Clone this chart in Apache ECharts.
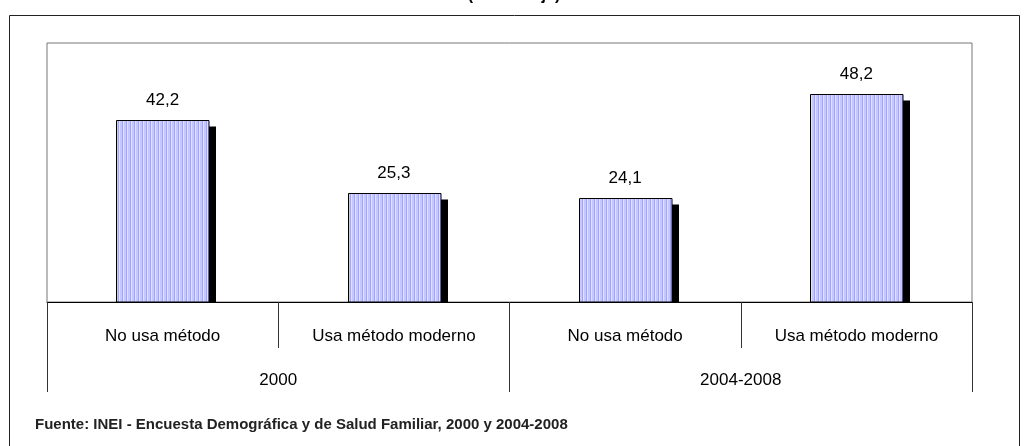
<!DOCTYPE html>
<html>
<head>
<meta charset="utf-8">
<script src="https://cdn.jsdelivr.net/npm/echarts@6/dist/echarts.min.js"></script>
<style>
  html, body { margin: 0; padding: 0; background: #fff; }
  #chart { width: 1028px; height: 446px; }
</style>
</head>
<body>
<div id="chart"></div>
<script>
const categories = ["No usa método", "Usa método moderno", "No usa método", "Usa método moderno"];
const groups = ["2000", "2004-2008"];
const values = [42.2, 25.3, 24.1, 48.2];
const titleText = "(Porcentaje)";
const sourceText = "Fuente: INEI - Encuesta Demográfica y de Salud Familiar, 2000 y 2004-2008";

const FONT = "'Liberation Sans Narrow', 'Arial Narrow', 'Liberation Sans', sans-serif";

// vertical stripe fill like the original bars
const stripe = document.createElement("canvas");
stripe.width = 4;
stripe.height = 4;
const sctx = stripe.getContext("2d");
sctx.fillStyle = "#c6c8fb";
sctx.fillRect(0, 0, 4, 4);
sctx.fillStyle = "#a4a6ee";
sctx.fillRect(2, 0, 1, 4);
sctx.fillStyle = "#e2e2ff";
sctx.fillRect(3, 0, 1, 4);

const mychart = echarts.init(document.getElementById("chart"));
const option = {
  animation: false,
  backgroundColor: "#fff",
  graphic: [
    {
      type: "rect",
      shape: { x: 9.5, y: 15.5, width: 1010, height: 460 },
      style: { fill: "none", stroke: "#222", lineWidth: 1 }
    },
    {
      type: "text",
      left: "center",
      top: -12,
      style: { text: titleText, font: "bold 16px " + FONT, fill: "#000" }
    },
    {
      type: "text",
      left: 35,
      top: 417,
      style: { text: sourceText, font: "bold 15px " + FONT, fill: "#222" }
    }
  ],
  grid: {
    left: 47,
    top: 43,
    right: 56,
    bottom: 144,
    show: true,
    borderColor: "#777",
    borderWidth: 1,
    containLabel: false
  },
  xAxis: [
    {
      type: "category",
      data: categories,
      position: "bottom",
      axisLine: { show: true, lineStyle: { color: "#000", width: 1 } },
      axisTick: { show: true, length: 46, lineStyle: { color: "#333" } },
      axisLabel: { margin: 26, fontSize: 17, fontFamily: FONT, color: "#000", interval: 0 }
    },
    {
      type: "category",
      data: groups,
      position: "bottom",
      offset: 0,
      axisLine: { show: false },
      axisTick: { show: true, length: 90, lineStyle: { color: "#333" } },
      axisLabel: { margin: 70, fontSize: 17, fontFamily: FONT, color: "#000", interval: 0 }
    }
  ],
  yAxis: {
    type: "value",
    min: 0,
    max: 60,
    show: false,
    splitLine: { show: false }
  },
  series: [
    {
      type: "custom",
      xAxisIndex: 0,
      data: values.map((v, i) => [i, v]),
      renderItem: function (params, api) {
        const top = api.coord([api.value(0), api.value(1)]);
        const base = api.coord([api.value(0), 0]);
        const w = api.size([1, 0])[0] * 0.4;
        const x = Math.round(top[0] - w / 2) + 0.5;
        const y = Math.round(top[1]) + 0.5;
        const h = base[1] - y;
        return {
          type: "group",
          children: [
            {
              type: "rect",
              shape: { x: x + 7, y: y + 6, width: w, height: h - 6 },
              style: { fill: "#000" }
            },
            {
              type: "rect",
              shape: { x: x, y: y, width: w, height: h },
              style: { fill: { image: stripe, repeat: "repeat" }, stroke: "#000", lineWidth: 1 }
            },
            {
              type: "text",
              style: {
                x: top[0],
                y: y - 12,
                text: api.value(1).toFixed(1).replace(".", ","),
                font: "17px " + FONT,
                fill: "#000",
                textAlign: "center",
                textVerticalAlign: "bottom"
              }
            }
          ]
        };
      }
    }
  ]
};
mychart.setOption(option);
</script>
</body>
</html>
